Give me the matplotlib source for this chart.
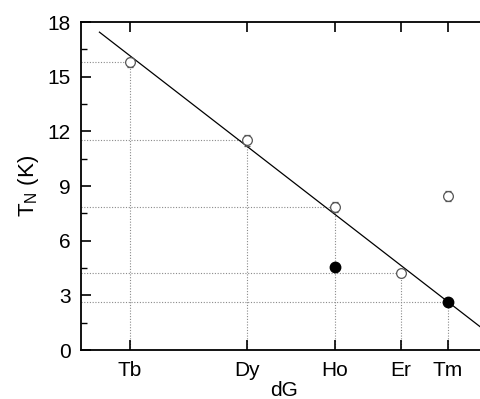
import matplotlib
matplotlib.use("Agg")
import matplotlib.pyplot as plt
import numpy as np
from matplotlib.ticker import MultipleLocator

plt.rcParams['font.family'] = ['Liberation Sans', 'DejaVu Sans']

# Data
elements = ["Tb", "Dy", "Ho", "Er", "Tm"]
dG = [10.5, 7.08, 4.5, 2.55, 1.17]

open_dG = [10.5, 7.08, 4.5, 2.55, 1.17]
open_TN = [15.8, 11.5, 7.83, 4.21, 8.45]
open_err = [0.25, 0.3, 0.28, 0.2, 0.3]

filled_dG = [4.5, 1.17]
filled_TN = [4.56, 2.65]

# guide lines (dotted): point levels to which dotted lines are drawn
guide_dG = [10.5, 7.08, 4.5, 2.55, 1.17]
guide_TN = [15.8, 11.5, 7.83, 4.21, 2.65]

fit_slope = 1.447
fit_intercept = 0.947
fit_range = [11.4, 0.0]

fig = plt.figure(figsize=(4.80, 3.99), dpi=100)
ax = fig.add_axes([80.7/480, 49/399, (487.9-80.7)/480, 328/399])

xl = (11.95, 0.0)
ax.set_xlim(*xl)
ax.set_ylim(0, 18)

dot_kw = dict(color="#8a8a8a", lw=0.8, ls=(0, (1, 1.5)), zorder=1)
for gx, gy in zip(guide_dG, guide_TN):
    ax.plot([xl[0], gx], [gy, gy], **dot_kw)
    ax.plot([gx, gx], [0, gy], **dot_kw)

fx = np.array(fit_range)
ax.plot(fx, fit_slope*fx + fit_intercept, color="black", lw=0.9, zorder=2)

ax.errorbar(open_dG, open_TN, yerr=open_err, fmt="o", mfc="white", mec="#555555",
            ecolor="#555555", ms=7, mew=0.9, elinewidth=0.8, capsize=2.5, capthick=0.8, zorder=3)
ax.plot(filled_dG, filled_TN, "o", color="black", ms=7.5, zorder=4)

ax.set_xticks(dG)
ax.set_xticklabels(elements)
ax.yaxis.set_major_locator(MultipleLocator(3))
ax.yaxis.set_minor_locator(MultipleLocator(1.5))
ax.tick_params(axis="both", which="major", direction="in", length=7, width=1.2, labelsize=15)
ax.tick_params(axis="y", which="minor", direction="in", length=4, width=1.0)
ax.tick_params(axis="x", top=True, pad=8)
ax.tick_params(axis="y", right=False, pad=7)

for s in ["left", "bottom", "top"]:
    ax.spines[s].set_linewidth(1.3)
ax.spines["right"].set_visible(False)

ax.set_xlabel("dG", fontsize=15, labelpad=1)
ax.set_ylabel(r"T$_\mathregular{N}$ (K)", fontsize=16, labelpad=5)

fig.savefig("out.png", dpi=100)
